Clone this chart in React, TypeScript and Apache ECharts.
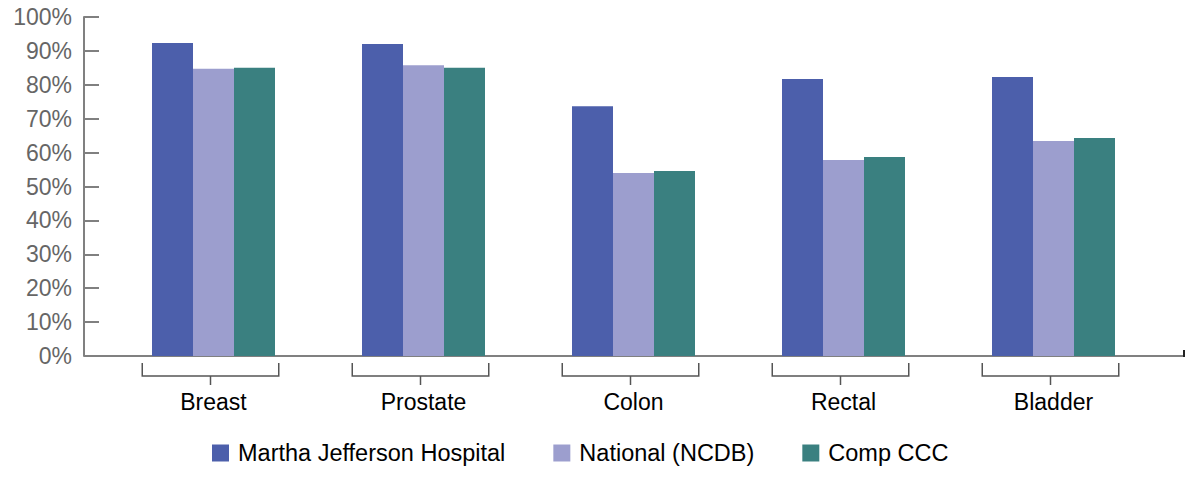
import React, { useEffect, useRef } from "react";
import * as echarts from "echarts";

const categories = ["Breast", "Prostate", "Colon", "Rectal", "Bladder"];
const seriesNames = ["Martha Jefferson Hospital", "National (NCDB)", "Comp CCC"];
const marthaJefferson = [92.3, 92.0, 73.7, 81.7, 82.3];
const nationalNCDB = [84.7, 85.8, 54.0, 57.8, 63.4];
const compCCC = [85.0, 85.0, 54.6, 58.7, 64.3];
const colors = ["#4C5FAB", "#9C9ECE", "#3A8080"];

export default function App() {
  const ref = useRef<HTMLDivElement>(null);
  useEffect(() => {
    if (!ref.current) return;
    const chart = echarts.init(ref.current, null, { renderer: "svg" });
    const font = "'Liberation Sans', Arial, sans-serif";
    const axisColor = "#808080";
    chart.setOption({
      animation: false,
      color: colors,
      textStyle: { fontFamily: font },
      grid: { left: 108.5, right: 35.5, top: 17, bottom: 137, containLabel: false },
      legend: {
        data: seriesNames,
        left: 207,
        top: 436,
        itemWidth: 17,
        itemHeight: 17,
        itemGap: 48,
        icon: "rect",
        textStyle: { fontSize: 23.5, color: "#000", fontFamily: font, padding: [0, 0, 0, 4] },
      },
      xAxis: {
        type: "category",
        data: categories,
        axisLine: { show: false },
        axisTick: { show: false },
        axisLabel: { fontSize: 23, color: "#000", margin: 34, fontFamily: font },
      },
      yAxis: {
        type: "value",
        min: 0,
        max: 100,
        interval: 10,
        offset: 24.5,
        axisLine: { show: true, lineStyle: { color: axisColor, width: 2 } },
        axisTick: { show: true, inside: true, length: 15, lineStyle: { color: axisColor, width: 2 } },
        splitLine: { show: false },
        axisLabel: { formatter: "{value}%", fontSize: 23, color: "#666", margin: 12, fontFamily: font },
      },
      graphic: [
        { type: "line", shape: { x1: 84, y1: 356, x2: 1184, y2: 356 }, style: { stroke: axisColor, lineWidth: 2 } },
        { type: "line", shape: { x1: 84, y1: 350, x2: 84, y2: 356 }, style: { stroke: "#222", lineWidth: 2 } },
        { type: "line", shape: { x1: 1184, y1: 350, x2: 1184, y2: 357 }, style: { stroke: "#222", lineWidth: 2 } },
      ],
      series: [
        { name: seriesNames[0], type: "bar", data: marthaJefferson, barWidth: 41, barGap: "0%" },
        { name: seriesNames[1], type: "bar", data: nationalNCDB, barWidth: 41, barGap: "0%" },
        { name: seriesNames[2], type: "bar", data: compCCC, barWidth: 41, barGap: "0%" },
        {
          type: "custom",
          name: "brackets",
          clip: false,
          silent: true,
          data: categories.map((_, i) => [i, 0]),
          renderItem: (params: any, api: any) => {
            const c = api.coord([api.value(0), 0]);
            const w = api.size([1, 0])[0] * 0.65;
            const x = c[0] - 3;
            const y = c[1];
            const style = { stroke: "#555", lineWidth: 1.5, fill: "none" };
            return {
              type: "group",
              children: [
                {
                  type: "polyline",
                  shape: { points: [[x - w / 2, y + 7], [x - w / 2, y + 20], [x + w / 2, y + 20], [x + w / 2, y + 7]] },
                  style,
                },
                { type: "line", shape: { x1: x, y1: y + 20, x2: x, y2: y + 29 }, style },
              ],
            };
          },
        },
      ],
    });
    return () => chart.dispose();
  }, []);
  return <div ref={ref} style={{ position: "absolute", left: 0, top: 0, width: 1194, height: 493 }} />;
}
